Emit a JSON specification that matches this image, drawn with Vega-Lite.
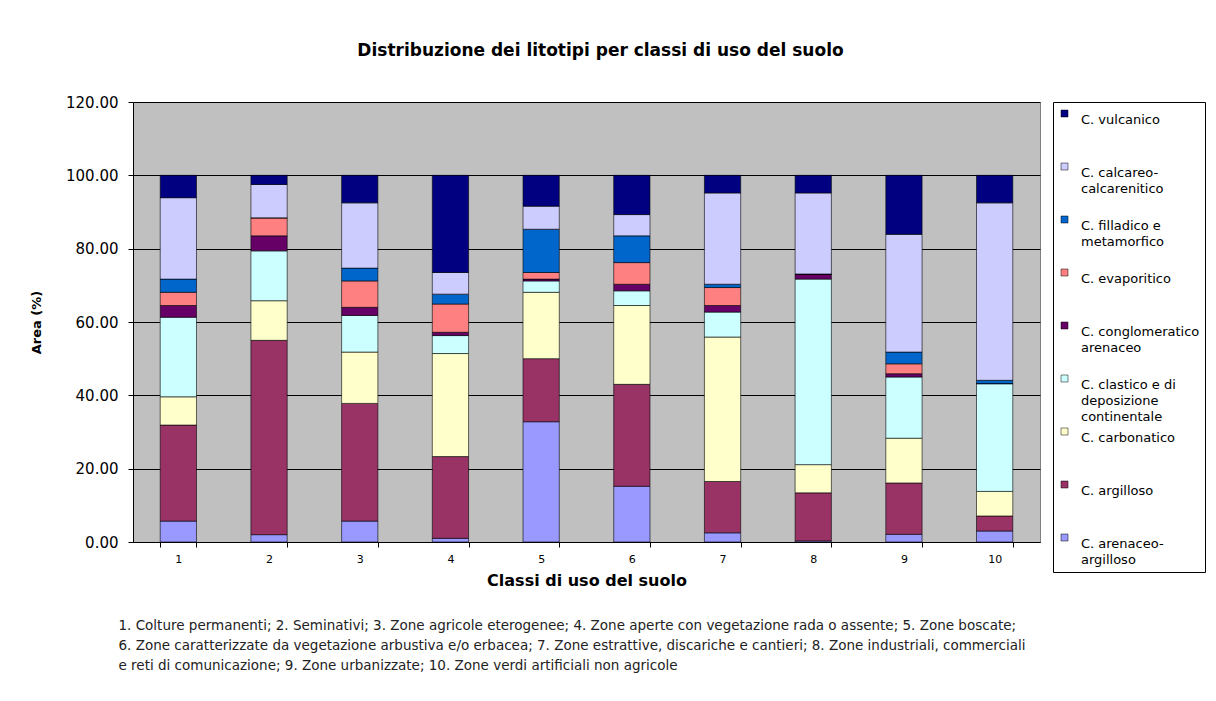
{
  "$schema": "https://vega.github.io/schema/vega-lite/v6.json",
  "width": 907,
  "height": 440,
  "autosize": "none",
  "padding": {"left": 133, "top": 102, "right": 176, "bottom": 159},
  "background": "white",
  "title": {
    "text": "Distribuzione dei litotipi per classi di uso del suolo",
    "font": "DejaVu Sans",
    "fontSize": 17,
    "fontWeight": "bold",
    "color": "black",
    "anchor": "middle",
    "dx": 14,
    "offset": 35
  },
  "config": {
    "font": "DejaVu Sans",
    "view": {"fill": "#C0C0C0", "stroke": "#808080"},
    "style": {"guide-label": {"lineHeight": 16.3}}
  },
  "data": {
    "values": [
      {"classe": 1, "ord": 1, "litotipo": "C. arenaceo-argilloso", "area": 5.7},
      {"classe": 1, "ord": 2, "litotipo": "C. argilloso", "area": 26.2},
      {"classe": 1, "ord": 3, "litotipo": "C. carbonatico", "area": 7.7},
      {"classe": 1, "ord": 4, "litotipo": "C. clastico e di deposizione continentale", "area": 21.7},
      {"classe": 1, "ord": 5, "litotipo": "C. conglomeratico arenaceo", "area": 3.2},
      {"classe": 1, "ord": 6, "litotipo": "C. evaporitico", "area": 3.6},
      {"classe": 1, "ord": 7, "litotipo": "C. filladico e metamorfico", "area": 3.6},
      {"classe": 1, "ord": 8, "litotipo": "C. calcareo-calcarenitico", "area": 22.2},
      {"classe": 1, "ord": 9, "litotipo": "C. vulcanico", "area": 6.1},
      {"classe": 2, "ord": 1, "litotipo": "C. arenaceo-argilloso", "area": 2.0},
      {"classe": 2, "ord": 2, "litotipo": "C. argilloso", "area": 53.0},
      {"classe": 2, "ord": 3, "litotipo": "C. carbonatico", "area": 10.8},
      {"classe": 2, "ord": 4, "litotipo": "C. clastico e di deposizione continentale", "area": 13.6},
      {"classe": 2, "ord": 5, "litotipo": "C. conglomeratico arenaceo", "area": 4.1},
      {"classe": 2, "ord": 6, "litotipo": "C. evaporitico", "area": 4.9},
      {"classe": 2, "ord": 7, "litotipo": "C. filladico e metamorfico", "area": 0.0},
      {"classe": 2, "ord": 8, "litotipo": "C. calcareo-calcarenitico", "area": 9.1},
      {"classe": 2, "ord": 9, "litotipo": "C. vulcanico", "area": 2.5},
      {"classe": 3, "ord": 1, "litotipo": "C. arenaceo-argilloso", "area": 5.7},
      {"classe": 3, "ord": 2, "litotipo": "C. argilloso", "area": 32.1},
      {"classe": 3, "ord": 3, "litotipo": "C. carbonatico", "area": 14.0},
      {"classe": 3, "ord": 4, "litotipo": "C. clastico e di deposizione continentale", "area": 10.0},
      {"classe": 3, "ord": 5, "litotipo": "C. conglomeratico arenaceo", "area": 2.2},
      {"classe": 3, "ord": 6, "litotipo": "C. evaporitico", "area": 7.2},
      {"classe": 3, "ord": 7, "litotipo": "C. filladico e metamorfico", "area": 3.5},
      {"classe": 3, "ord": 8, "litotipo": "C. calcareo-calcarenitico", "area": 17.8},
      {"classe": 3, "ord": 9, "litotipo": "C. vulcanico", "area": 7.5},
      {"classe": 4, "ord": 1, "litotipo": "C. arenaceo-argilloso", "area": 1.0},
      {"classe": 4, "ord": 2, "litotipo": "C. argilloso", "area": 22.3},
      {"classe": 4, "ord": 3, "litotipo": "C. carbonatico", "area": 28.1},
      {"classe": 4, "ord": 4, "litotipo": "C. clastico e di deposizione continentale", "area": 4.9},
      {"classe": 4, "ord": 5, "litotipo": "C. conglomeratico arenaceo", "area": 0.9},
      {"classe": 4, "ord": 6, "litotipo": "C. evaporitico", "area": 7.7},
      {"classe": 4, "ord": 7, "litotipo": "C. filladico e metamorfico", "area": 2.7},
      {"classe": 4, "ord": 8, "litotipo": "C. calcareo-calcarenitico", "area": 5.9},
      {"classe": 4, "ord": 9, "litotipo": "C. vulcanico", "area": 26.5},
      {"classe": 5, "ord": 1, "litotipo": "C. arenaceo-argilloso", "area": 32.8},
      {"classe": 5, "ord": 2, "litotipo": "C. argilloso", "area": 17.2},
      {"classe": 5, "ord": 3, "litotipo": "C. carbonatico", "area": 18.1},
      {"classe": 5, "ord": 4, "litotipo": "C. clastico e di deposizione continentale", "area": 3.1},
      {"classe": 5, "ord": 5, "litotipo": "C. conglomeratico arenaceo", "area": 0.5},
      {"classe": 5, "ord": 6, "litotipo": "C. evaporitico", "area": 1.8},
      {"classe": 5, "ord": 7, "litotipo": "C. filladico e metamorfico", "area": 11.8},
      {"classe": 5, "ord": 8, "litotipo": "C. calcareo-calcarenitico", "area": 6.3},
      {"classe": 5, "ord": 9, "litotipo": "C. vulcanico", "area": 8.4},
      {"classe": 6, "ord": 1, "litotipo": "C. arenaceo-argilloso", "area": 15.2},
      {"classe": 6, "ord": 2, "litotipo": "C. argilloso", "area": 27.8},
      {"classe": 6, "ord": 3, "litotipo": "C. carbonatico", "area": 21.5},
      {"classe": 6, "ord": 4, "litotipo": "C. clastico e di deposizione continentale", "area": 4.0},
      {"classe": 6, "ord": 5, "litotipo": "C. conglomeratico arenaceo", "area": 1.8},
      {"classe": 6, "ord": 6, "litotipo": "C. evaporitico", "area": 5.9},
      {"classe": 6, "ord": 7, "litotipo": "C. filladico e metamorfico", "area": 7.3},
      {"classe": 6, "ord": 8, "litotipo": "C. calcareo-calcarenitico", "area": 5.8},
      {"classe": 6, "ord": 9, "litotipo": "C. vulcanico", "area": 10.7},
      {"classe": 7, "ord": 1, "litotipo": "C. arenaceo-argilloso", "area": 2.5},
      {"classe": 7, "ord": 2, "litotipo": "C. argilloso", "area": 14.0},
      {"classe": 7, "ord": 3, "litotipo": "C. carbonatico", "area": 39.4},
      {"classe": 7, "ord": 4, "litotipo": "C. clastico e di deposizione continentale", "area": 6.8},
      {"classe": 7, "ord": 5, "litotipo": "C. conglomeratico arenaceo", "area": 1.8},
      {"classe": 7, "ord": 6, "litotipo": "C. evaporitico", "area": 4.9},
      {"classe": 7, "ord": 7, "litotipo": "C. filladico e metamorfico", "area": 0.9},
      {"classe": 7, "ord": 8, "litotipo": "C. calcareo-calcarenitico", "area": 24.9},
      {"classe": 7, "ord": 9, "litotipo": "C. vulcanico", "area": 4.8},
      {"classe": 8, "ord": 1, "litotipo": "C. arenaceo-argilloso", "area": 0.3},
      {"classe": 8, "ord": 2, "litotipo": "C. argilloso", "area": 13.1},
      {"classe": 8, "ord": 3, "litotipo": "C. carbonatico", "area": 7.7},
      {"classe": 8, "ord": 4, "litotipo": "C. clastico e di deposizione continentale", "area": 50.6},
      {"classe": 8, "ord": 5, "litotipo": "C. conglomeratico arenaceo", "area": 1.4},
      {"classe": 8, "ord": 6, "litotipo": "C. evaporitico", "area": 0.0},
      {"classe": 8, "ord": 7, "litotipo": "C. filladico e metamorfico", "area": 0.0},
      {"classe": 8, "ord": 8, "litotipo": "C. calcareo-calcarenitico", "area": 22.1},
      {"classe": 8, "ord": 9, "litotipo": "C. vulcanico", "area": 4.8},
      {"classe": 9, "ord": 1, "litotipo": "C. arenaceo-argilloso", "area": 2.1},
      {"classe": 9, "ord": 2, "litotipo": "C. argilloso", "area": 14.0},
      {"classe": 9, "ord": 3, "litotipo": "C. carbonatico", "area": 12.2},
      {"classe": 9, "ord": 4, "litotipo": "C. clastico e di deposizione continentale", "area": 16.7},
      {"classe": 9, "ord": 5, "litotipo": "C. conglomeratico arenaceo", "area": 0.9},
      {"classe": 9, "ord": 6, "litotipo": "C. evaporitico", "area": 2.7},
      {"classe": 9, "ord": 7, "litotipo": "C. filladico e metamorfico", "area": 3.2},
      {"classe": 9, "ord": 8, "litotipo": "C. calcareo-calcarenitico", "area": 32.1},
      {"classe": 9, "ord": 9, "litotipo": "C. vulcanico", "area": 16.1},
      {"classe": 10, "ord": 1, "litotipo": "C. arenaceo-argilloso", "area": 3.0},
      {"classe": 10, "ord": 2, "litotipo": "C. argilloso", "area": 4.1},
      {"classe": 10, "ord": 3, "litotipo": "C. carbonatico", "area": 6.7},
      {"classe": 10, "ord": 4, "litotipo": "C. clastico e di deposizione continentale", "area": 29.4},
      {"classe": 10, "ord": 5, "litotipo": "C. conglomeratico arenaceo", "area": 0.0},
      {"classe": 10, "ord": 6, "litotipo": "C. evaporitico", "area": 0.0},
      {"classe": 10, "ord": 7, "litotipo": "C. filladico e metamorfico", "area": 0.9},
      {"classe": 10, "ord": 8, "litotipo": "C. calcareo-calcarenitico", "area": 48.4},
      {"classe": 10, "ord": 9, "litotipo": "C. vulcanico", "area": 7.5}
    ]
  },
  "layer": [
    {
      "mark": {"type": "bar", "stroke": "black", "strokeWidth": 0.6},
      "encoding": {
        "x": {
          "field": "classe",
          "type": "ordinal",
          "scale": {"paddingInner": 0.6, "paddingOuter": 0.3},
          "axis": {
            "orient": "bottom",
            "title": "Classi di uso del suolo",
            "titleFont": "DejaVu Sans",
            "titleFontSize": 16,
            "titleFontWeight": "bold",
            "titleColor": "black",
            "titlePadding": 8,
            "labelAngle": 0,
            "labelFontSize": 11,
            "labelColor": "black",
            "labelPadding": 6,
            "tickBand": "extent",
            "tickSize": 5,
            "tickColor": "black",
            "domainColor": "black",
            "grid": false
          }
        },
        "y": {
          "field": "area",
          "type": "quantitative",
          "stack": "zero",
          "scale": {"domain": [0, 120]},
          "axis": {
            "title": "Area (%)",
            "titleFont": "DejaVu Sans",
            "titleFontSize": 13,
            "titleFontWeight": "bold",
            "titleColor": "black",
            "titleX": -90,
            "titleY": 220,
            "values": [0, 20, 40, 60, 80, 100, 120],
            "format": ".2f",
            "labelFontSize": 15,
            "labelColor": "black",
            "labelPadding": 10,
            "tickSize": 5,
            "tickColor": "black",
            "domainColor": "black",
            "gridColor": "black",
            "gridOpacity": 1,
            "gridWidth": 1
          }
        },
        "color": {
          "field": "litotipo",
          "type": "nominal",
          "scale": {
            "domain": [
              "C. vulcanico",
              "C. calcareo-calcarenitico",
              "C. filladico e metamorfico",
              "C. evaporitico",
              "C. conglomeratico arenaceo",
              "C. clastico e di deposizione continentale",
              "C. carbonatico",
              "C. argilloso",
              "C. arenaceo-argilloso"
            ],
            "range": ["#000080", "#CCCCFF", "#0066CC", "#FF8080", "#660066", "#CCFFFF", "#FFFFCC", "#993366", "#9999FF"]
          },
          "legend": {
            "title": null,
            "orient": "none",
            "legendX": 920,
            "legendY": 0,
            "fillColor": "white",
            "strokeColor": "black",
            "padding": 5,
            "symbolType": "square",
            "symbolSize": 49,
            "symbolStrokeColor": "black",
            "symbolStrokeWidth": 0.5,
            "symbolOpacity": 1,
            "labelFontSize": 13,
            "labelColor": "black",
            "labelBaseline": "top",
            "labelLimit": 200,
            "labelOffset": 10,
            "rowPadding": 0,
            "labelExpr": "datum.label == 'C. calcareo-calcarenitico' ? ['C. calcareo-', 'calcarenitico', ''] : datum.label == 'C. filladico e metamorfico' ? ['C. filladico e', 'metamorfico', ''] : datum.label == 'C. conglomeratico arenaceo' ? ['C. conglomeratico', 'arenaceo', ''] : datum.label == 'C. clastico e di deposizione continentale' ? ['C. clastico e di', 'deposizione', 'continentale'] : datum.label == 'C. arenaceo-argilloso' ? ['C. arenaceo-', 'argilloso'] : [datum.label, '', '']"
          }
        },
        "order": {"field": "ord", "type": "quantitative"}
      }
    },
    {
      "mark": {"type": "point", "opacity": 0},
      "encoding": {
        "x": {
          "field": "classe",
          "type": "ordinal",
          "axis": {
            "orient": "bottom",
            "domain": false,
            "ticks": false,
            "labels": false,
            "grid": false,
            "title": [
              "1. Colture permanenti; 2. Seminativi; 3. Zone agricole eterogenee; 4. Zone aperte con vegetazione rada o assente; 5. Zone boscate;",
              "6. Zone caratterizzate da vegetazione arbustiva e/o erbacea; 7. Zone estrattive, discariche e cantieri; 8. Zone industriali, commerciali",
              "e reti di comunicazione; 9. Zone urbanizzate; 10. Zone verdi artificiali non agricole"
            ],
            "titleFont": "DejaVu Sans",
            "titleFontSize": 13.5,
            "titleFontWeight": "normal",
            "titleColor": "#222222",
            "titleLineHeight": 20,
            "titleAnchor": "start",
            "titleAlign": "left",
            "titleBaseline": "top",
            "titleX": -15,
            "titleY": 76
          }
        }
      }
    }
  ],
  "resolve": {"axis": {"x": "independent"}}
}
